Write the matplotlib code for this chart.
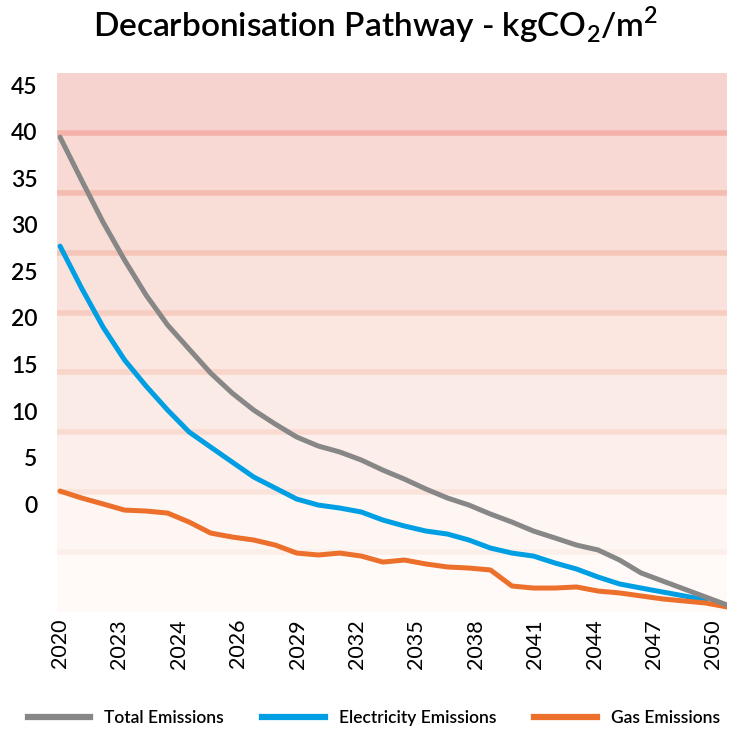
import numpy as np
import matplotlib
matplotlib.use('Agg')
import matplotlib.pyplot as plt
from matplotlib.lines import Line2D

plt.rcParams['font.family'] = ['Lato', 'DejaVu Sans']
plt.rcParams['mathtext.fontset'] = 'custom'
plt.rcParams['mathtext.rm'] = 'Lato:semibold'

# data (one point per step)
total = [39.65, 36.06, 32.55, 29.38, 26.46, 23.96, 21.95, 19.95, 18.28, 16.86,
         15.69, 14.61, 13.86, 13.36, 12.69, 11.85, 11.10, 10.27, 9.52, 8.93,
         8.18, 7.51, 6.76, 6.18, 5.59, 5.18, 4.34, 3.26, 2.59, 1.92, 1.25, 0.58]
electricity = [30.55, 27.05, 23.79, 21.04, 18.86, 16.86, 15.03, 13.77, 12.52, 11.27,
               10.35, 9.43, 8.93, 8.68, 8.35, 7.68, 7.18, 6.76, 6.51, 6.01,
               5.34, 4.92, 4.67, 4.09, 3.59, 2.92, 2.34, 2.00, 1.67, 1.34, 1.00]
gas = [10.10, 9.52, 9.02, 8.51, 8.43, 8.26, 7.51, 6.59, 6.26, 6.01,
       5.59, 4.92, 4.76, 4.92, 4.67, 4.17, 4.34, 4.01, 3.76, 3.67,
       3.51, 2.17, 2.00, 2.00, 2.09, 1.75, 1.59, 1.34, 1.09, 0.92, 0.75, 0.42]

x_labels = ['2020', '2023', '2024', '2026', '2029', '2032', '2035', '2038',
            '2041', '2044', '2047', '2050']
y_labels = ['45', '40', '35', '30', '25', '20', '15', '10', '5', '0']

band_colors = ['#f7d3cf', '#f9d9d4', '#f9ddd7', '#fae2dc', '#fbe6e0',
               '#fbebe6', '#fcefeb', '#fdf6f3', '#fffaf8']
line_colors = ['#f4b2aa', '#f5bcb1', '#f6c5b9', '#f7cdc1', '#f8d4c9',
               '#f9dbd1', '#fae3da', '#fcefea']

fig = plt.figure(figsize=(7.33, 7.31), dpi=100)
ax = fig.add_axes([0.0778, 0.1628, 0.9142, 0.7372])

xmax = len(total) - 1
ax.set_xlim(-0.14, xmax)
ax.set_ylim(0, 45)

# background bands, darkest at the top
for i, c in enumerate(band_colors):
    ax.axhspan(45 - 5 * (i + 1), 45 - 5 * i, color=c, lw=0, zorder=0)
for i, c in enumerate(line_colors):
    ax.axhline(40 - 5 * i, color=c, lw=4, zorder=1)

ax.plot(range(len(electricity)), electricity, color='#009fe3', lw=3.6,
        solid_capstyle='round', solid_joinstyle='round', zorder=3)
ax.plot(range(len(gas)), gas, color='#ec6f2b', lw=3.6,
        solid_capstyle='round', solid_joinstyle='round', zorder=4)
ax.plot(range(len(total)), total, color='#878787', lw=3.6,
        solid_capstyle='round', solid_joinstyle='round', zorder=5)

for s in ax.spines.values():
    s.set_visible(False)

xt = np.arange(len(x_labels)) * 2.76
ax.set_xticks(xt)
ax.set_xticklabels(x_labels, rotation=90, fontsize=15.5)
yt = np.linspace(44.0, 9.0, len(y_labels))
ax.set_yticks(yt)
ax.set_yticklabels(y_labels, fontsize=16.5, fontweight='semibold')
ax.tick_params(length=0)
ax.tick_params(axis='y', pad=14)
ax.tick_params(axis='x', pad=5)

fig.text(0.512, 0.966, r'Decarbonisation Pathway - kgCO$_2$/m$^2$',
         ha='center', va='center', fontsize=24, fontweight='semibold')

handles = [Line2D([0], [0], color='#878787', lw=4.5),
           Line2D([0], [0], color='#009fe3', lw=4.5),
           Line2D([0], [0], color='#ec6f2b', lw=4.5)]
fig.legend(handles, ['Total Emissions', 'Electricity Emissions', 'Gas Emissions'],
           loc='center', bbox_to_anchor=(0.51, 0.018), ncol=3, frameon=False,
           prop={'size': 12.5, 'weight': 'semibold'},
           handlelength=3.6, columnspacing=2.2, handletextpad=0.8)

fig.savefig('out.png', dpi=100)
